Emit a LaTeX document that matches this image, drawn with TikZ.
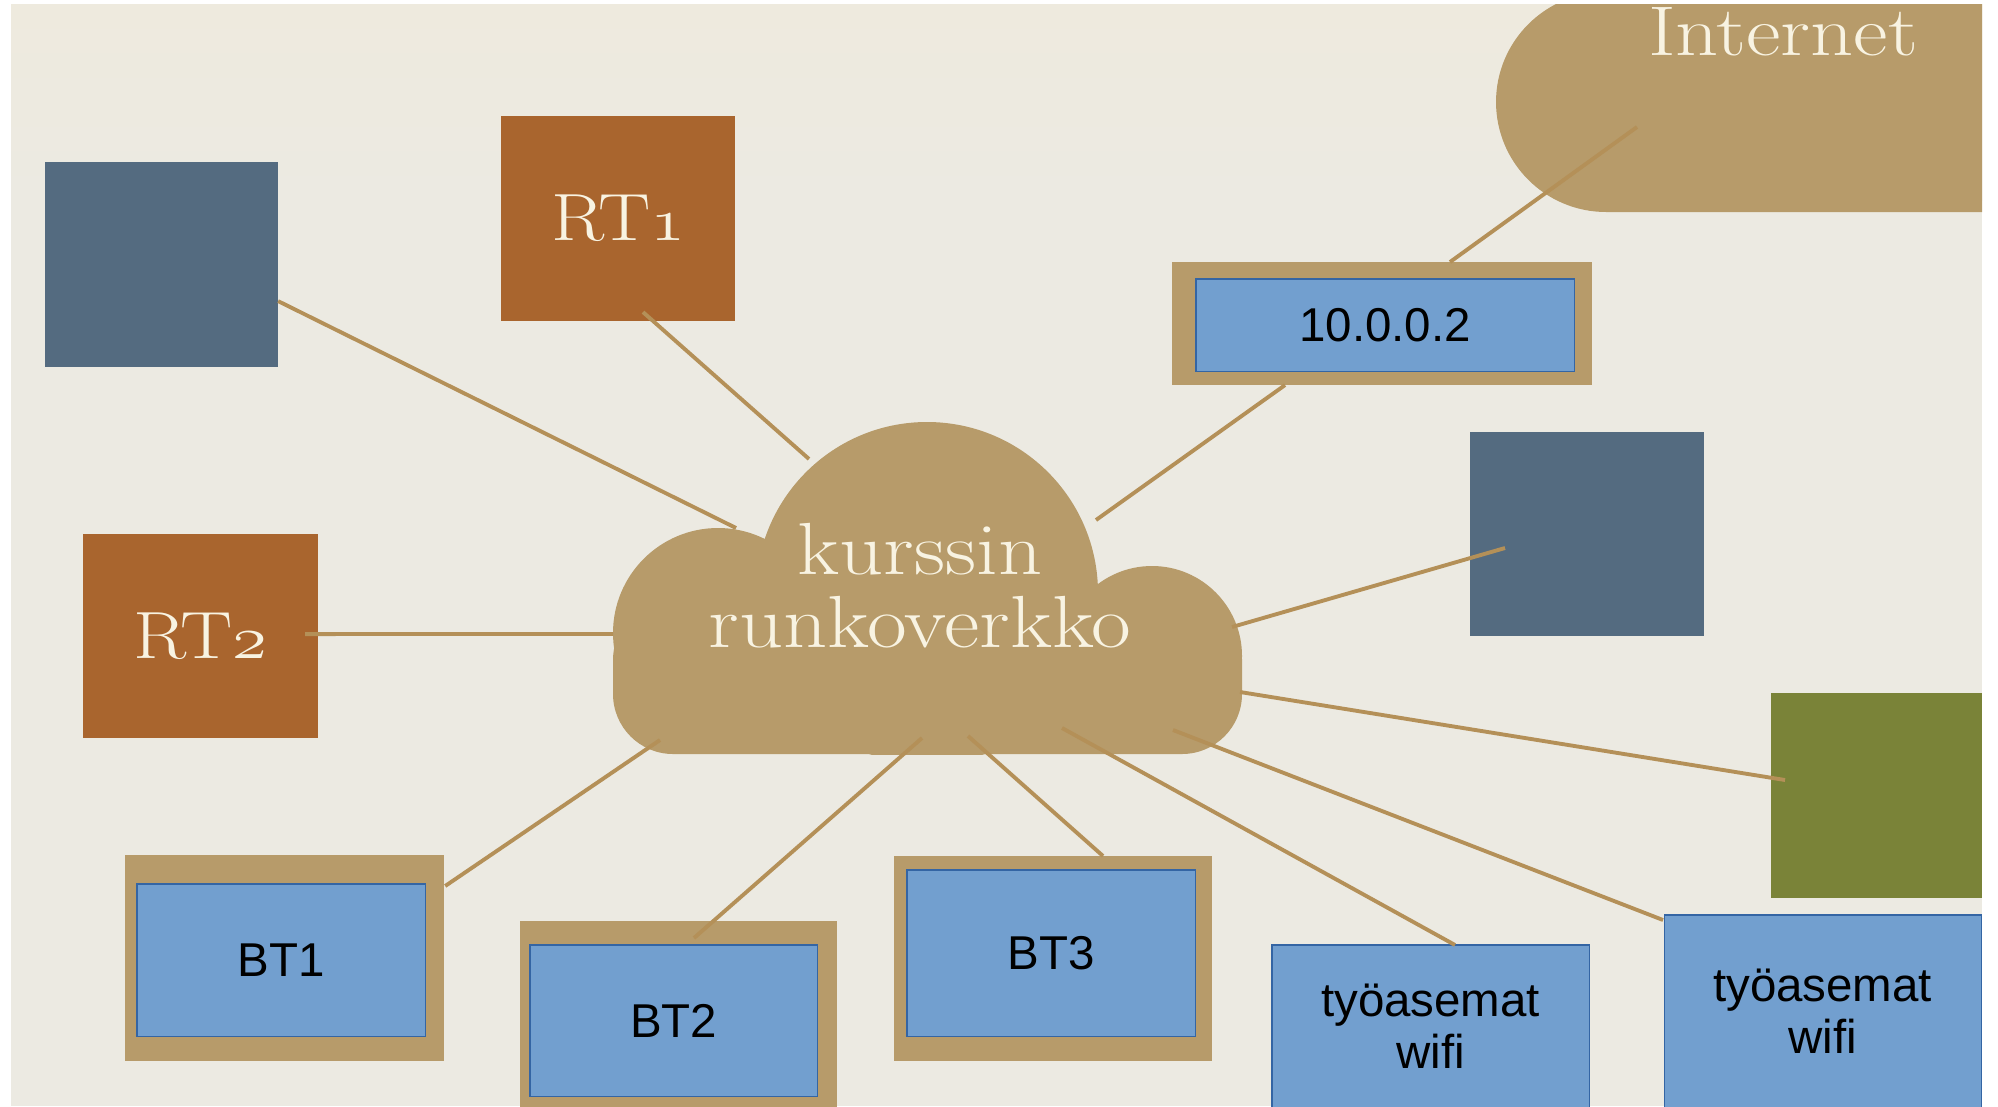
\documentclass[tikz,border=0pt]{standalone}
\usepackage{fontspec}
\newfontfamily\arialfont{Liberation Sans}
\usetikzlibrary{calc}

\definecolor{paper}{RGB}{236,234,226}
\definecolor{paperTop}{RGB}{238,234,222}
\definecolor{sand}{RGB}{183,155,106}
\definecolor{wire}{RGB}{180,144,88}
\definecolor{rust}{RGB}{169,101,46}
\definecolor{slate}{RGB}{84,107,128}
\definecolor{olive}{RGB}{122,131,56}
\definecolor{lofill}{RGB}{114,159,207}
\definecolor{loline}{RGB}{52,101,164}
\definecolor{cream}{RGB}{248,243,226}

\newcommand{\oldnum}[1]{{\fontencoding{OML}\fontfamily{lmm}\fontshape{it}\selectfont #1}}
\newcommand{\wide}[1]{\scalebox{1.17}[1]{#1}}

\begin{document}
\begin{tikzpicture}[x = 0.01cm, y = -0.01cm,
	tile/.style = {anchor = north west, inner sep = 0pt, outer sep = 0pt},
	framebox/.style = {tile, fill = sand},
	host/.style = {tile, fill = lofill, draw = loline, line width = 0.3pt, align = center, font = \arialfont\fontsize{13.5}{14.8}\selectfont},
	router/.style = {tile, fill = rust, text = cream, font = \fontsize{19}{22}\selectfont},
	cloudtext/.style = {text = cream, align = center, font = \fontsize{21}{20.8}\selectfont},
	link/.style = {wire, line width = 1.1pt}]
	\useasboundingbox (0, 0) rectangle (1998, 1106);
	\fill[white] (0, 0) rectangle (1998, 1106);
	\begin{scope}
		\clip (11, 4) rectangle (1982, 1106);
		\fill[paper] (11, 4) rectangle (1982, 1106);
		\shade[top color = paperTop, bottom color = paper] (11, 4) rectangle (1982, 200);

		\fill[sand, rounded corners = 1.1cm] (1496, -8) rectangle (2100, 212);
		\node[cloudtext, anchor = base, font = \fontsize{20}{22}\selectfont] (inet) at (1783, 55) {\scalebox{1.2}[1]{Internet}};

		\begin{scope}
			\clip (600, 400) rectangle (1260, 754);
			\fill[sand] (927, 593) circle (171);
			\fill[sand] (718, 633) circle (105);
			\fill[sand] (1152, 656) circle (90);
			\fill[sand, rounded corners = 0.6cm] (613, 600) rectangle (1242, 754);
		\end{scope}
		\node[cloudtext] (core) at (920, 586) {\wide{kurssin}\\\wide{runkoverkko}};

		\node[tile, fill = slate, minimum width = 2.33cm, minimum height = 2.05cm] (hostA) at (45, 162) {};
		\node[router, minimum width = 2.34cm, minimum height = 2.05cm] (rtone) at (501, 116) {\wide{RT\oldnum{1}}};
		\node[router, minimum width = 2.35cm, minimum height = 2.04cm] (rttwo) at (83, 534) {\wide{RT\oldnum{2}}};
		\node[tile, fill = slate, minimum width = 2.34cm, minimum height = 2.04cm] (hostB) at (1470, 432) {};
		\node[tile, fill = olive, minimum width = 2.11cm, minimum height = 2.05cm] (hostC) at (1771, 693) {};

		\node[framebox, minimum width = 4.20cm, minimum height = 1.23cm] (gwframe) at (1172, 262) {};
		\node[host, minimum width = 3.78cm, minimum height = 0.92cm] (gw) at (1196, 279) {10.0.0.2};

		\node[framebox, minimum width = 3.19cm, minimum height = 2.06cm] (btoneframe) at (125, 855) {};
		\node[host, minimum width = 2.88cm, minimum height = 1.52cm] (btone) at (137, 884) {BT1};
		\node[framebox, minimum width = 3.17cm, minimum height = 2.0cm] (bttwoframe) at (520, 921) {};
		\node[host, minimum width = 2.87cm, minimum height = 1.51cm] (bttwo) at (530, 945) {BT2};
		\node[framebox, minimum width = 3.18cm, minimum height = 2.05cm] (btthreeframe) at (894, 856) {};
		\node[host, minimum width = 2.88cm, minimum height = 1.66cm] (btthree) at (907, 870) {BT3};
		\node[host, minimum width = 3.17cm, minimum height = 1.63cm] (wsone) at (1272, 945) {työasemat\\wifi};
		\node[host, minimum width = 3.17cm, minimum height = 1.93cm] (wstwo) at (1664, 915) {työasemat\\wifi};

		\draw[link] ($(core)+(-184, -58)$) -- ($(hostA.south east)+(0, -66)$);
		\draw[link] ($(core)+(-111, -127)$) -- ($(rtone.south west)+(142, -9)$);
		\draw[link] ($(core)+(-307, 48)$) -- ($(rttwo.east)+(-13, -2)$);
		\draw[link] ($(core)+(176, -66)$) -- ($(gwframe.south west)+(113, 0)$);
		\draw[link] ($(gwframe.north west)+(278, 0)$) -- ($(inet.base)+(-146, 72)$);
		\draw[link] ($(core)+(312, 41)$) -- ($(hostB.north west)+(35, 116)$);
		\draw[link] ($(core)+(320, 106)$) -- ($(hostC.north west)+(14, 87)$);
		\draw[link] ($(core)+(253, 144)$) -- ($(wstwo.north west)+(-1, 5)$);
		\draw[link] ($(core)+(142, 142)$) -- ($(wsone.north west)+(183, 0)$);
		\draw[link] ($(core)+(48, 150)$) -- ($(btthreeframe.north west)+(209, 0)$);
		\draw[link] ($(core)+(2, 152)$) -- ($(bttwoframe.north west)+(174, 17)$);
		\draw[link] ($(core)+(-260, 154)$) -- ($(btoneframe.north east)+(1, 31)$);
	\end{scope}
\end{tikzpicture}
\end{document}
